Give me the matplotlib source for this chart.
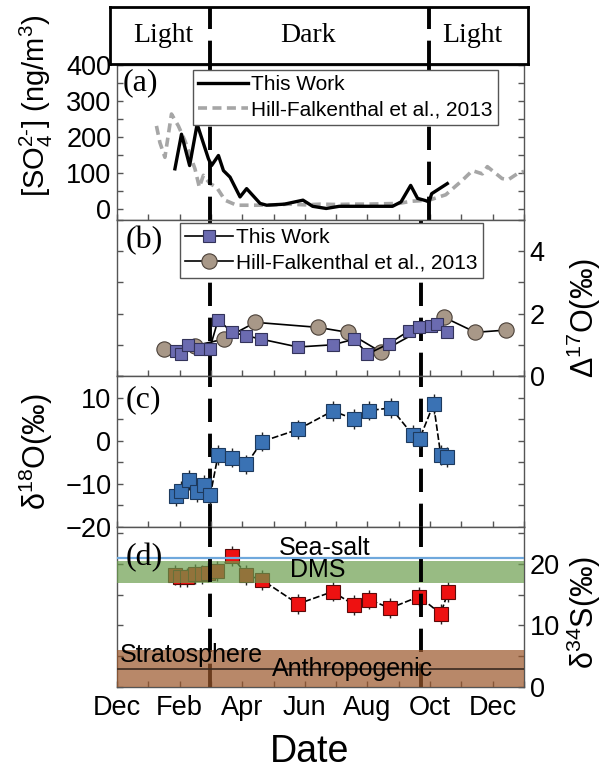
import matplotlib
matplotlib.use('Agg')
import matplotlib.pyplot as plt
from matplotlib.ticker import FixedLocator, MultipleLocator

plt.rcParams['font.family'] = ['Liberation Sans', 'DejaVu Sans']
plt.rcParams['mathtext.fontset'] = 'custom'
plt.rcParams['mathtext.rm'] = 'Liberation Sans'
plt.rcParams['mathtext.it'] = 'Liberation Sans:italic'
plt.rcParams['mathtext.default'] = 'regular'

# ---------------- data (x = months after 1 December) ----------------
month_ticks = [0, 2, 4, 6, 8, 10, 12]
month_labels = ['Dec', 'Feb', 'Apr', 'Jun', 'Aug', 'Oct', 'Dec']

# (a) sulfate concentration
so4_tw_x = [1.85, 2.06, 2.32, 2.56, 2.92, 3.02, 3.24, 3.40, 3.61, 3.93, 4.14, 4.57, 4.78,
            5.35, 5.94, 6.25, 6.68, 7.10, 7.52, 7.95, 8.38, 8.80, 9.07, 9.38, 9.60, 9.85,
            9.97, 10.05, 10.55]
so4_tw_y = [112, 208, 121, 236, 140, 121, 149, 107, 89, 34, 57, 16, 11,
            14, 25, 8, 2, 8, 8, 8, 8, 8, 20, 66, 30, 24,
            20, 43, 71]
so4_hf_x = [1.26, 1.37, 1.53, 1.74, 1.96, 2.17, 2.49, 2.63, 2.76, 2.97, 3.18, 3.45, 3.82,
            4.46, 5.0, 5.5, 6.0, 6.5, 7.0, 7.5, 8.0, 8.5, 9.0, 9.4, 9.97, 10.5, 11.03,
            11.35, 11.67, 11.83, 12.3, 12.5, 12.78, 13.0]
so4_hf_y = [231, 185, 144, 264, 231, 190, 112, 61, 94, 71, 61, 25, 11,
            11, 12, 14, 12, 14, 13, 14, 14, 15, 16, 22, 25, 40, 80,
            107, 98, 118, 85, 82, 98, 105]

# (b) D17O
d17_tw_x = [1.90, 2.06, 2.27, 2.64, 2.96, 3.23, 3.68, 4.13, 4.61, 5.78, 6.89, 7.58, 8.00,
            8.69, 9.33, 9.65, 10.02, 10.23, 10.55]
d17_tw_y = [0.81, 0.71, 1.00, 0.87, 0.87, 1.80, 1.40, 1.29, 1.18, 0.93, 1.00, 1.18, 0.70,
            1.04, 1.45, 1.56, 1.61, 1.67, 1.40]
d17_hf_x = [1.50, 2.48, 3.41, 4.42, 6.41, 7.37, 8.43, 10.45, 11.45, 12.41]
d17_hf_y = [0.86, 0.97, 1.18, 1.72, 1.56, 1.40, 0.77, 1.88, 1.40, 1.47]

# (c) d18O
d18_x = [1.88, 2.06, 2.30, 2.54, 2.77, 2.98, 3.23, 3.68, 4.13, 4.63, 5.78, 6.89, 7.58,
         8.06, 8.75, 9.44, 9.67, 10.11, 10.34, 10.55]
d18_y = [-12.9, -11.6, -9.2, -11.8, -10.3, -12.6, -3.3, -3.9, -5.5, -0.2, 2.6, 6.9, 5.0,
         7.0, 7.6, 1.4, 0.5, 8.5, -3.3, -3.7]
d18_err = [2.3] * len(d18_x)

# (d) d34S
d34_x = [1.85, 2.00, 2.24, 2.48, 2.70, 2.91, 3.19, 3.68, 4.13, 4.63, 5.78, 6.89, 7.58,
         8.06, 8.72, 9.65, 10.34, 10.57]
d34_y = [18.2, 17.8, 17.8, 18.4, 18.3, 18.6, 18.8, 21.3, 18.2, 17.4, 13.5, 15.5, 13.3,
         14.2, 12.8, 14.7, 11.9, 15.4]
d34_err = [1.6] * len(d34_x)

# source signatures (d)
seasalt = 21.0
dms_band = (16.9, 20.5)
anthro_band = (0.0, 6.0)
anthro_line = 3.0

# season boundaries
dark_start = 2.96
dark_end_a = 9.97
dark_end = 9.71

# ---------------- figure ----------------
W, H = 607, 772
fig = plt.figure(figsize=(W / 100, H / 100), dpi=100)


def box(l, t, r, b):
    return [l / W, 1 - b / H, (r - l) / W, (b - t) / H]


XL, XR = 117, 524
XMAX = 13.0
ppm = (XR - XL) / XMAX

axA = fig.add_axes(box(XL, 65, XR, 220))
axB = fig.add_axes(box(XL, 220, XR, 376))
axC = fig.add_axes(box(XL, 376, XR, 527))
axD = fig.add_axes(box(XL, 527, XR, 687))
axL = fig.add_axes(box(110, 7, 528, 64))

spine_c = '#555555'
dash = (0, (6, 3))
TICK_FS = 19.5

for ax in (axA, axB, axC, axD):
    ax.set_xlim(0, XMAX)
    ax.xaxis.set_major_locator(FixedLocator(month_ticks))
    ax.xaxis.set_minor_locator(MultipleLocator(1))
    for s in ax.spines.values():
        s.set_color(spine_c)
        s.set_linewidth(1.0)
    ax.tick_params(which='both', direction='in', length=4, width=1, color=spine_c,
                   left=True, right=True, top=False, bottom=True, labelsize=TICK_FS)
    ax.tick_params(axis='y', pad=4)

for ax in (axA, axB, axC):
    ax.tick_params(labelbottom=False)
axD.set_xticks(month_ticks)
axD.set_xticklabels(month_labels)
axD.tick_params(axis='x', pad=6)

# banner
axL.set_xlim((110 - XL) / ppm, (528 - XL) / ppm)
axL.set_ylim(0, 1)
axL.set_xticks([])
axL.set_yticks([])
for s in axL.spines.values():
    s.set_linewidth(2)
    s.set_color('black')
for xx, lab in [((163 - XL) / ppm, 'Light'), ((308 - XL) / ppm, 'Dark'), ((472 - XL) / ppm, 'Light')]:
    axL.text(xx, 0.5, lab, ha='center', va='center', fontsize=20,
             family='Liberation Serif')
axL.axvline(dark_start, color='k', lw=2.8, ls=dash)
axL.axvline(dark_end_a, color='k', lw=2.8, ls=dash)

leg_kw = dict(loc='upper left', borderaxespad=0, fontsize=15, fancybox=False,
              framealpha=1, edgecolor='#555555', borderpad=0.25, labelspacing=0.3)

# (a)
axA.set_ylim(-30, 400)
axA.yaxis.set_major_locator(MultipleLocator(100))
axA.yaxis.set_minor_locator(MultipleLocator(50))
axA.plot(so4_tw_x, so4_tw_y, color='black', lw=2.4, label='This Work', zorder=3)
axA.plot(so4_hf_x, so4_hf_y, color='#a6a6a6', lw=2.6, ls=(0, (2.5, 1.5)),
         label='Hill-Falkenthal et al., 2013', zorder=2)
axA.axvline(dark_start, color='k', lw=2.8, ls=dash, zorder=4)
axA.axvline(dark_end_a, color='k', lw=2.8, ls=dash, zorder=4)
leg = axA.legend(bbox_to_anchor=(0.187, 0.968), handlelength=2.4, handletextpad=0.15,
                 **leg_kw)
leg.get_frame().set_linewidth(1)
leg.set_zorder(5)
axA.text(0.015, 0.884, '(a)', transform=axA.transAxes, ha='left', va='center',
         fontsize=23, family='Liberation Serif', zorder=6)

# (b)
axB.set_ylim(0, 5)
axB.yaxis.set_major_locator(MultipleLocator(2))
axB.yaxis.set_minor_locator(MultipleLocator(1))
axB.tick_params(axis='y', labelleft=False, labelright=True)
axB.axvline(dark_start, color='k', lw=2.8, ls=dash, zorder=1)
axB.axvline(dark_end, color='k', lw=2.8, ls=dash, zorder=1)
axB.plot(d17_tw_x, d17_tw_y, color='black', lw=1.2, marker='s', ms=9,
         mfc='#6b6bb0', mec='#33335a', mew=0.8, label='This Work', zorder=3)
axB.plot(d17_hf_x, d17_hf_y, color='black', lw=1.2, marker='o', ms=11,
         mfc='#a89888', mec='#4a4038', mew=0.8, label='Hill-Falkenthal et al., 2013',
         zorder=2)
leg = axB.legend(bbox_to_anchor=(0.155, 0.98), handlelength=2.3, handletextpad=0.15,
                 numpoints=1, **leg_kw)
leg.get_frame().set_linewidth(1)
leg.set_zorder(5)
axB.text(0.02, 0.865, '(b)', transform=axB.transAxes, ha='left', va='center',
         fontsize=23, family='Liberation Serif', zorder=6)

# (c)
axC.set_ylim(-20, 15)
axC.yaxis.set_major_locator(MultipleLocator(10))
axC.yaxis.set_minor_locator(MultipleLocator(5))
axC.axvline(dark_start, color='k', lw=2.8, ls=dash, zorder=1)
axC.axvline(dark_end, color='k', lw=2.8, ls=dash, zorder=1)
axC.errorbar(d18_x, d18_y, yerr=d18_err, color='black', lw=1.2, ls=(0, (4, 1.5)),
             marker='s', ms=10, mfc='#3a72b4', mec='#1d3a5e', mew=0.8,
             ecolor='#222222', elinewidth=1, capsize=0, zorder=3)
axC.text(0.02, 0.84, '(c)', transform=axC.transAxes, ha='left', va='center',
         fontsize=23, family='Liberation Serif', zorder=6)

# (d)
axD.set_ylim(0, 26)
axD.yaxis.set_major_locator(MultipleLocator(10))
axD.yaxis.set_minor_locator(MultipleLocator(5))
axD.tick_params(axis='y', labelleft=False, labelright=True)
axD.errorbar(d34_x, d34_y, yerr=d34_err, color='black', lw=1.2, ls=(0, (4, 1.5)),
             marker='s', ms=10, mfc='#ee1111', mec='#5a0a0a', mew=0.8,
             ecolor='#222222', elinewidth=1, capsize=0, zorder=2)
axD.axhspan(*dms_band, color='#6c9e4e', alpha=0.7, lw=0, zorder=3)
axD.axvline(dark_start, color='k', lw=2.8, ls=dash, zorder=4)
axD.axvline(dark_end, color='k', lw=2.8, ls=dash, zorder=4)
axD.axhspan(*anthro_band, color='#9a562a', alpha=0.7, lw=0, zorder=5)
axD.axhline(anthro_line, color='#3a2a20', lw=1.2, zorder=6)
axD.axhline(seasalt, color='#6fa8dc', lw=1.6, zorder=6)
axD.text((325 - XL) / ppm, 22.6, 'Sea-salt', ha='center', va='center', fontsize=18, zorder=7)
axD.text((318 - XL) / ppm, 19.0, 'DMS', ha='center', va='center', fontsize=18, zorder=7)
axD.text((120 - XL) / ppm, 5.2, 'Stratosphere', ha='left', va='center', fontsize=18, zorder=7)
axD.text((272 - XL) / ppm, 2.9, 'Anthropogenic', ha='left', va='center', fontsize=18, zorder=7)
axD.text(0.02, 0.81, '(d)', transform=axD.transAxes, ha='left', va='center',
         fontsize=23, family='Liberation Serif', zorder=8)

# axis labels
fig.text(36 / W, 1 - 106 / H, r'[SO$_4^{2\text{-}}$] (ng/m$^3$)', rotation=90,
         ha='center', va='center', fontsize=21)
fig.text(36 / W, 1 - 452 / H, r'$\delta^{18}$O(‰)', rotation=90,
         ha='center', va='center', fontsize=22)
fig.text(584 / W, 1 - 318 / H, r'$\Delta^{17}$O(‰)', rotation=90,
         ha='center', va='center', fontsize=22)
fig.text(584 / W, 1 - 612 / H, r'$\delta^{34}$S(‰)', rotation=90,
         ha='center', va='center', fontsize=22)
fig.text(310 / W, 1 - 752 / H, 'Date', ha='center', va='center', fontsize=27)

fig.savefig('out.png', dpi=100)
